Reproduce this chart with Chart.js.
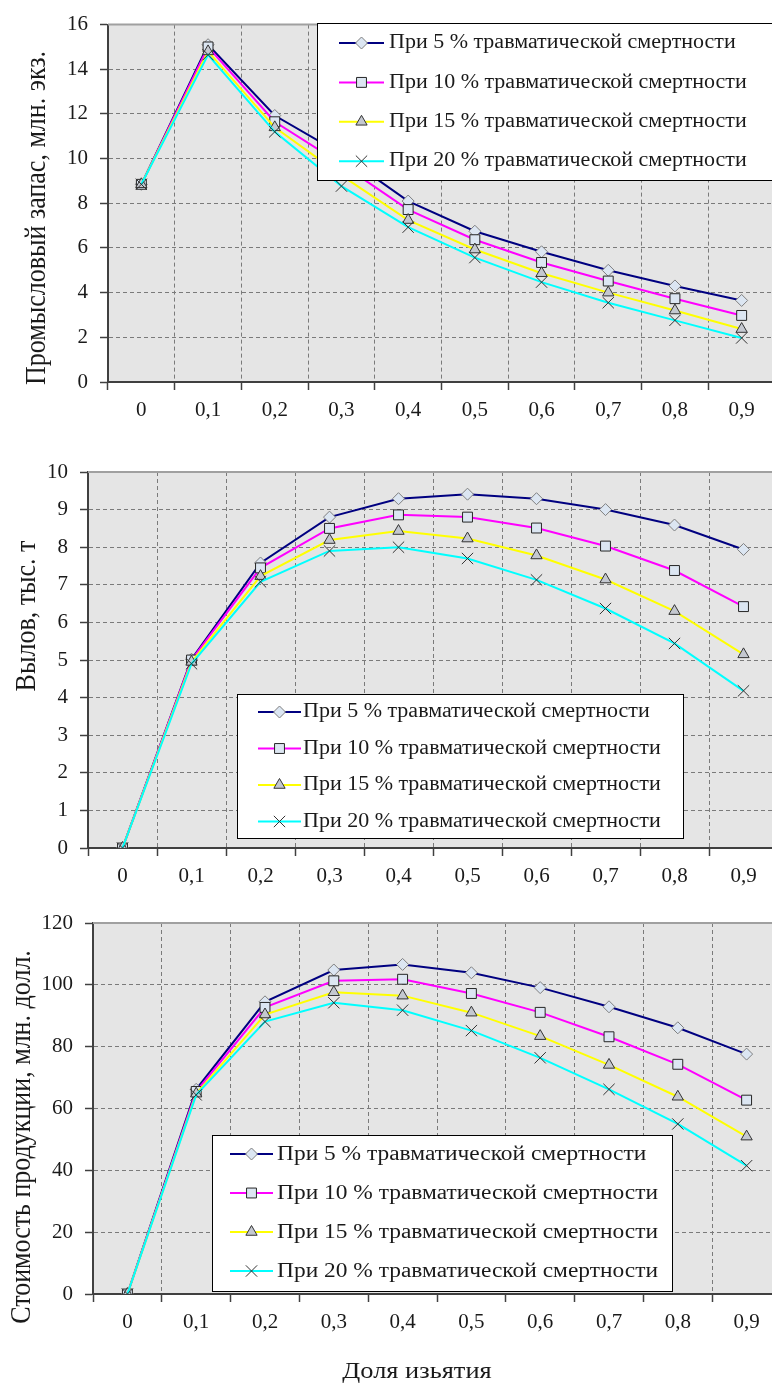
<!DOCTYPE html>
<html>
<head>
<meta charset="utf-8">
<script src="https://cdn.jsdelivr.net/npm/chart.js@4.4.1/dist/chart.umd.min.js"></script>
<style>
  html, body { margin: 0; padding: 0; background: #fff; overflow: hidden; }
  body { width: 772px; height: 1390px; position: relative; }
  canvas { position: absolute; left: 0; }
</style>
</head>
<body>
<canvas id="stock" width="790" height="430" style="top:0px"></canvas>
<canvas id="catch" width="790" height="460" style="top:430px"></canvas>
<canvas id="value" width="790" height="500" style="top:890px"></canvas>
<script>
// доля изъятия
const shares = ["0", "0,1", "0,2", "0,3", "0,4", "0,5", "0,6", "0,7", "0,8", "0,9"];
const seriesLabels = [
  "При 5 % травматической смертности",
  "При 10 % травматической смертности",
  "При 15 % травматической смертности",
  "При 20 % травматической смертности",
];

// промысловый запас, млн. экз.
const stock5  = [8.85, 15.1, 11.93, 10.2, 8.1, 6.75, 5.83, 5.0, 4.3, 3.65];
const stock10 = [8.85, 15.0, 11.65, 9.75, 7.72, 6.37, 5.35, 4.52, 3.73, 2.98];
const stock15 = [8.85, 14.8, 11.4, 9.25, 7.25, 5.93, 4.87, 4.0, 3.2, 2.37];
const stock20 = [8.85, 14.65, 11.2, 8.77, 6.93, 5.57, 4.47, 3.55, 2.76, 1.97];

// вылов, тыс. т
const catch5  = [0, 5.02, 7.58, 8.8, 9.29, 9.41, 9.29, 9.0, 8.59, 7.94];
const catch10 = [0, 5.0, 7.45, 8.5, 8.86, 8.8, 8.51, 8.03, 7.38, 6.42];
const catch15 = [0, 4.95, 7.23, 8.19, 8.43, 8.23, 7.78, 7.14, 6.3, 5.15];
const catch20 = [0, 4.9, 7.08, 7.9, 8.0, 7.7, 7.13, 6.37, 5.44, 4.18];

// стоимость продукции, млн. долл.
const value5  = [0, 66.2, 94.5, 104.8, 106.6, 103.9, 99.1, 92.9, 86.1, 77.6];
const value10 = [0, 65.5, 92.7, 101.3, 101.8, 97.2, 91.1, 83.2, 74.3, 62.7];
const value15 = [0, 64.8, 90.4, 97.6, 96.5, 91.0, 83.4, 74.1, 63.8, 50.9];
const value20 = [0, 64.4, 88.1, 94.2, 91.8, 85.2, 76.4, 66.2, 55.0, 41.5];

const FONT = "'Liberation Serif', 'Times New Roman', serif";
const TEXT = "#1a1a1a";
const STRETCH = 1.1; // the source picture is a bit wider than tall

const seriesStyle = [
  { color: "#000080", pointStyle: "rectRot",  radius: 6, fill: "#dce6f2", border: "#7f7f7f" },
  { color: "#ff00ff", pointStyle: "rect",     radius: 7, fill: "#dce6f2", border: "#262626" },
  { color: "#ffff00", pointStyle: "triangle", radius: 6.5, fill: "#c4c8d0", border: "#333333" },
  { color: "#00ffff", pointStyle: "crossRot", radius: 8, fill: "#333333", border: "#333333" },
];

// gray plot area + light top border
const plotFrame = {
  id: "plotFrame",
  beforeDraw(chart) {
    const { ctx, chartArea: a } = chart;
    ctx.save();
    ctx.fillStyle = "#e5e5e5";
    ctx.fillRect(a.left, a.top, a.right - a.left, a.bottom - a.top);
    ctx.restore();
  },
  afterDraw(chart) {
    const { ctx, chartArea: a } = chart;
    ctx.save();
    ctx.strokeStyle = "#a0a0a0";
    ctx.lineWidth = 2;
    ctx.beginPath();
    ctx.moveTo(a.left, a.top);
    ctx.lineTo(a.right, a.top);
    ctx.stroke();
    ctx.restore();
  },
};

// legend box drawn over the plot, like in the original
const boxLegend = {
  id: "boxLegend",
  afterDraw(chart, args, opts) {
    const ctx = chart.ctx;
    ctx.save();
    ctx.fillStyle = "#fff";
    ctx.strokeStyle = "#000";
    ctx.lineWidth = 1;
    ctx.fillRect(opts.x, opts.y, opts.w, opts.h);
    ctx.strokeRect(opts.x + 0.5, opts.y + 0.5, opts.w, opts.h);
    chart.data.datasets.forEach((ds, i) => {
      const y = opts.firstRow + i * opts.rowGap;
      ctx.strokeStyle = ds.borderColor;
      ctx.lineWidth = 2;
      ctx.beginPath();
      ctx.moveTo(opts.lineFrom, y);
      ctx.lineTo(opts.lineTo, y);
      ctx.stroke();
      ctx.fillStyle = ds.pointBackgroundColor;
      ctx.strokeStyle = ds.pointBorderColor;
      ctx.lineWidth = 1;
      Chart.helpers.drawPoint(ctx, {
        pointStyle: ds.pointStyle, radius: ds.pointRadius, rotation: 0, borderWidth: 1,
      }, (opts.lineFrom + opts.lineTo) / 2, y);

      ctx.save();
      ctx.translate(opts.textX, y);
      ctx.scale(STRETCH, 1);
      ctx.fillStyle = TEXT;
      ctx.font = opts.fontSize + "px " + FONT;
      ctx.textBaseline = "middle";
      ctx.textAlign = "left";
      ctx.fillText(ds.label, 0, 0);
      ctx.restore();
    });
    ctx.restore();
  },
};

// axis captions
const captions = {
  id: "captions",
  afterDraw(chart, args, opts) {
    const ctx = chart.ctx;
    (opts.items || []).forEach(c => {
      ctx.save();
      ctx.translate(c.x, c.y);
      ctx.scale(STRETCH, 1);
      ctx.rotate(c.rotate ? -Math.PI / 2 : 0);
      ctx.fillStyle = TEXT;
      ctx.font = c.size + "px " + FONT;
      ctx.textAlign = "center";
      ctx.textBaseline = "middle";
      ctx.fillText(c.text, 0, 0);
      ctx.restore();
    });
  },
};

function makeChart(id, series, yMax, yStep, frame, legend, items) {
  const datasets = series.map((data, i) => {
    const s = seriesStyle[i];
    return {
      label: seriesLabels[i],
      data: data,
      borderColor: s.color,
      borderWidth: 2,
      tension: 0,
      pointStyle: s.pointStyle,
      pointRadius: s.radius,
      pointBackgroundColor: s.fill,
      pointBorderColor: s.border,
      pointBorderWidth: 1,
      order: series.length - i,
    };
  });

  return new Chart(document.getElementById(id), {
    type: "line",
    data: { labels: shares, datasets: datasets },
    options: {
      responsive: false,
      animation: false,
      layout: { padding: { left: 0, top: frame.top, right: frame.right, bottom: 0 } },
      plugins: {
        legend: { display: false },
        tooltip: { enabled: false },
        boxLegend: legend,
        captions: { items: items },
      },
      scales: {
        x: {
          offset: true,
          grid: {
            offset: true, color: "#7a7a7a", lineWidth: 1,
            tickColor: "#404040", tickLength: 8, tickWidth: 1.5,
          },
          border: { color: "#404040", width: 2, dash: [4, 3] },
          ticks: { color: TEXT, font: { family: FONT, size: 21 }, padding: 8, maxRotation: 0, autoSkip: false },
          afterFit(scale) { scale.height = frame.xHeight; },
        },
        y: {
          min: 0,
          max: yMax,
          grid: {
            color: "#7a7a7a", lineWidth: 1,
            tickColor: "#404040", tickLength: 8, tickWidth: 1.5,
          },
          border: { color: "#404040", width: 2, dash: [4, 3] },
          ticks: { stepSize: yStep, color: TEXT, font: { family: FONT, size: 21 }, padding: 12 },
          afterFit(scale) { scale.width = frame.left; },
        },
      },
    },
    plugins: [plotFrame, boxLegend, captions],
  });
}

makeChart("stock", [stock5, stock10, stock15, stock20], 16, 2,
  { top: 17, right: 15, left: 108, xHeight: 48 },
  { x: 317, y: 23, w: 460, h: 157, firstRow: 43, rowGap: 39.4, lineFrom: 339, lineTo: 384, textX: 389, fontSize: 20 },
  [{ text: "Промысловый запас, млн. экз.", x: 37, y: 218, size: 26, rotate: true }]);

makeChart("catch", [catch5, catch10, catch15, catch20], 10, 1,
  { top: 42, right: 12, left: 88, xHeight: 42 },
  { x: 237, y: 264, w: 446, h: 144, firstRow: 282, rowGap: 36.5, lineFrom: 258, lineTo: 301, textX: 303, fontSize: 20 },
  [{ text: "Вылов, тыс. т", x: 27.5, y: 186, size: 26, rotate: true }]);

makeChart("value", [value5, value10, value15, value20], 120, 20,
  { top: 33, right: 9, left: 93, xHeight: 96 },
  { x: 212, y: 245, w: 460, h: 156, firstRow: 264, rowGap: 39, lineFrom: 230, lineTo: 273, textX: 277, fontSize: 21.3 },
  [
    { text: "Стоимость продукции, млн. долл.", x: 22, y: 247, size: 26, rotate: true },
    { text: "Доля изьятия", x: 417, y: 482, size: 24, rotate: false },
  ]);
</script>
</body>
</html>
